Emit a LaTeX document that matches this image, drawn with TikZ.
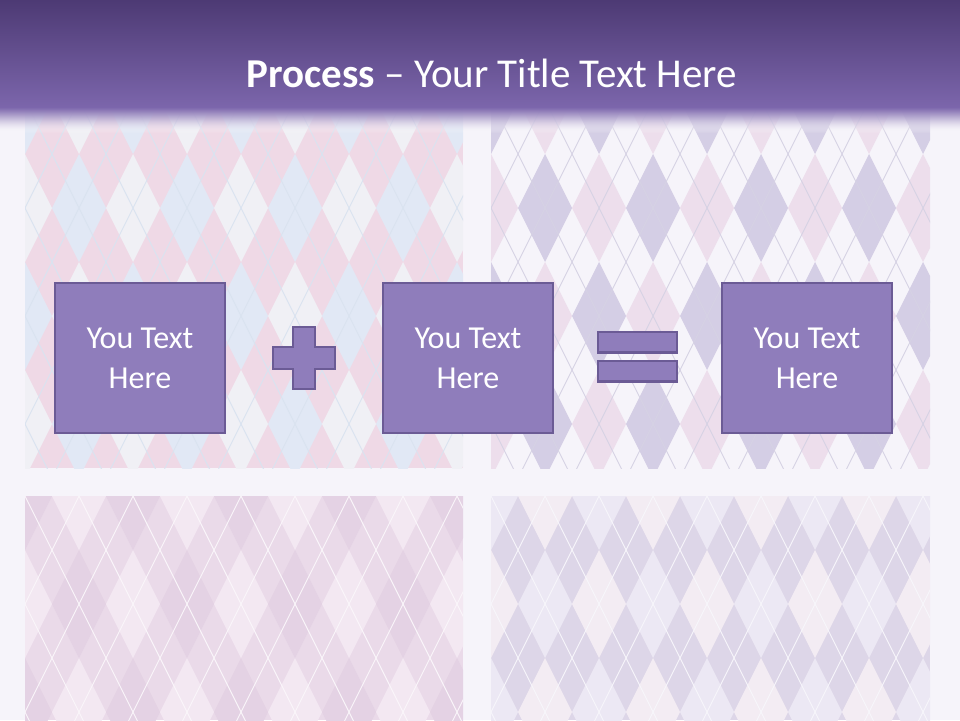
\documentclass[tikz,border=0pt]{standalone}
\usepackage{fontspec}
\setsansfont{Carlito}
\usetikzlibrary{calc}
\definecolor{cBg}{HTML}{F6F4FA}
\definecolor{cTtlTop}{HTML}{4D3A74}
\definecolor{cTtlBot}{HTML}{7C66AC}
\definecolor{cBox}{HTML}{8F7DBB}
\definecolor{cBoxLn}{HTML}{6B5B95}
\definecolor{cTLa}{HTML}{E1E8F5}
\definecolor{cTLb}{HTML}{EFD9E6}
\definecolor{cTLc}{HTML}{F0F0F5}
\definecolor{cTLl}{HTML}{DAE3F0}
\definecolor{cTRa}{HTML}{D4CEE5}
\definecolor{cTRb}{HTML}{F6F4FA}
\definecolor{cTRc}{HTML}{EDDEEC}
\definecolor{cTRl}{HTML}{D6D2E4}
\definecolor{cBLa}{HTML}{E4D2E4}
\definecolor{cBLb}{HTML}{EADAE9}
\definecolor{cBLc}{HTML}{F3E8F2}
\definecolor{cBRa}{HTML}{ECE8F4}
\definecolor{cBRb}{HTML}{DDD6E8}
\definecolor{cBRc}{HTML}{F3ECF3}
\newcommand{\argw}{54}
\newcommand{\argh}{108}
\newcommand{\argylepanel}[8]{%
  \begin{scope}
    \clip (#1,#2) rectangle (#3,#4);
    \fill[#6] (#1,#2) rectangle (#3,#4);
    \foreach \p in {-1,...,18}{\foreach \q in {-1,...,8}{
      \pgfmathtruncatemacro{\s}{\p+\q+40}
      \ifodd\s\else
        \pgfmathtruncatemacro{\c}{mod((\p+\q+40)/2,2)+mod((\p-\q+40)/2,2)}
        \ifnum\c=1\else
          \ifnum\c=0 \def\dcol{#5}\else\def\dcol{#7}\fi
          \fill[fill=\dcol] ({#1+\p*\argw/2},{#2+\q*\argh/2-\argh/2}) -- ++(\argw/2,\argh/2)
            -- ++(-\argw/2,\argh/2) -- ++(-\argw/2,-\argh/2) -- cycle;
        \fi
      \fi}}
    \foreach \k in {-20,-18,...,40}{
      \draw[#8, line width=0.9pt] ({#1+(\k-12)*\argw/2},{#2-12*\argh/2}) -- ({#1+(\k+12)*\argw/2},{#2+12*\argh/2});
      \draw[#8, line width=0.9pt] ({#1+(\k-12)*\argw/2},{#2+12*\argh/2}) -- ({#1+(\k+12)*\argw/2},{#2-12*\argh/2});}
  \end{scope}}

\begin{document}
\begin{tikzpicture}[x=1pt, y=-1pt, font=\sffamily,
  pbox/.style={draw=cBoxLn, fill=cBox, line width=2.5pt, minimum width=170pt, minimum height=150pt,
    text=white, align=center, font=\sffamily\fontsize{32}{40}\selectfont},
  sym/.style={draw=cBoxLn, fill=cBox, line width=2.5pt}]
  \useasboundingbox (0,0) rectangle (960,720);
  \fill[cBg] (0,0) rectangle (960,720);
  \argylepanel{25}{100}{463}{468}{cTLa}{cTLb}{cTLc}{cTLl}
  \argylepanel{491}{100}{930}{468}{cTRa}{cTRb}{cTRc}{cTRl}
  \argylepanel{25}{496}{463}{720}{cBLa}{cBLb}{cBLc}{white!60!cBLc}
  \argylepanel{491}{496}{930}{720}{cBRa}{cBRb}{cBRc}{white!60!cBRa}
  \shade[top color=cTtlTop, bottom color=cTtlBot] (0,0) rectangle (960,108);
  \foreach \k in {0,...,25}{
    \pgfmathtruncatemacro{\m}{100-4*\k}
    \pgfmathsetmacro{\o}{1-(\k/26)^2}
    \fill[cTtlBot!\m!white, opacity=\o] (0,{107+\k}) rectangle (960,{108.2+\k});}
  \node[anchor=base, text=white, font=\sffamily\fontsize{41}{48}\selectfont] (title) at (492,87)
       {\textbf{Process} – Your Title Text Here};
  \node[pbox] (box1) at (140,358) {You Text\\Here};
  \node[pbox] (box2) at (468,358) {You Text\\Here};
  \node[pbox] (box3) at (807,358) {You Text\\Here};
  \coordinate (plus) at ($(box1.east)!0.5!(box2.west)$);
  \coordinate (eq) at ($(box2.east)!0.5!(box3.west)$);
  \draw[sym, shift={(plus)}] (-10.8,-31) -- (10.8,-31) -- (10.8,-10.8) -- (31,-10.8) -- (31,10.8) -- (10.8,10.8)
    -- (10.8,31) -- (-10.8,31) -- (-10.8,10.8) -- (-31,10.8) -- (-31,-10.8) -- (-10.8,-10.8) -- cycle;
  \draw[sym] ([shift={(-39.5,-26)}]eq) rectangle ([shift={(39.5,-5.5)}]eq);
  \draw[sym] ([shift={(-39.5,3)}]eq) rectangle ([shift={(39.5,23.5)}]eq);
\end{tikzpicture}
\end{document}
